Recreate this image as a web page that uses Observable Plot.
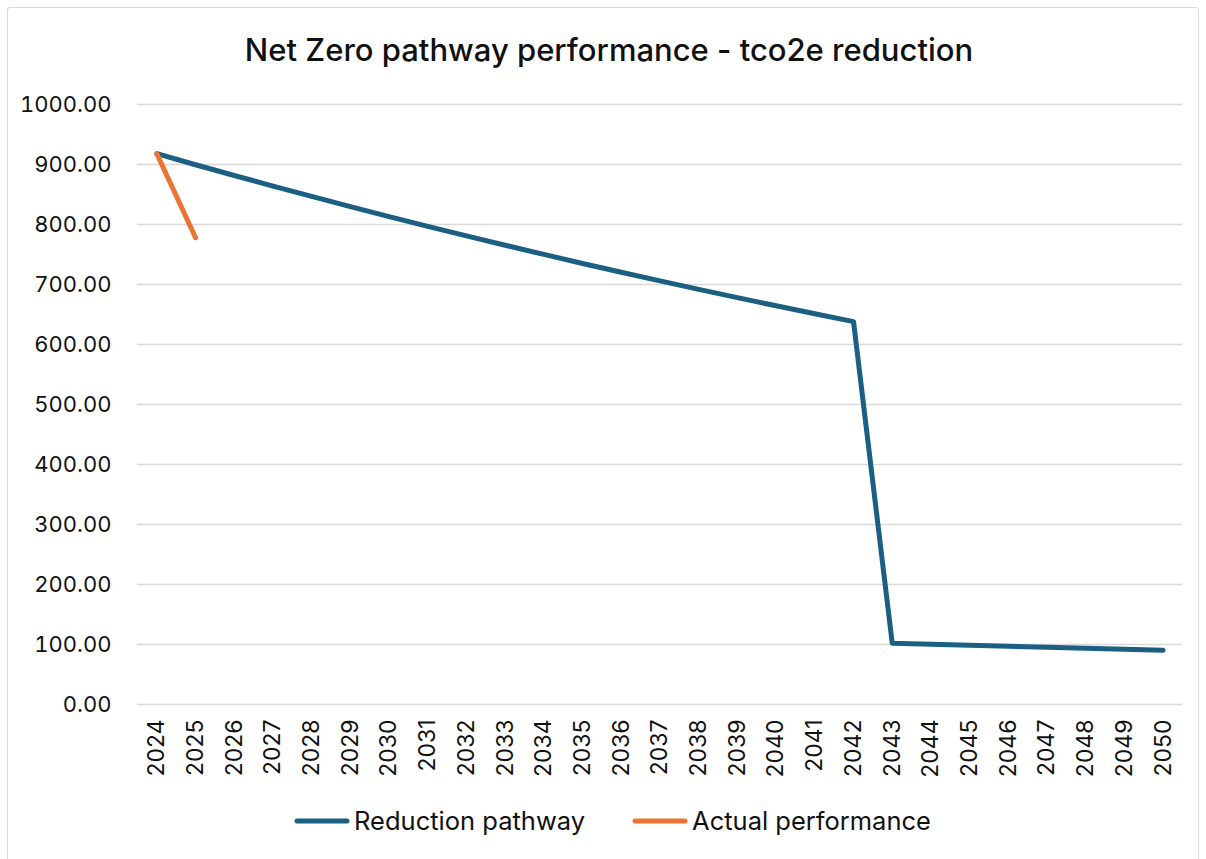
<!DOCTYPE html>
<html>
<head>
<meta charset="utf-8">
<script src="https://cdn.jsdelivr.net/npm/d3@7"></script>
<script src="https://cdn.jsdelivr.net/npm/@observablehq/plot@0.6"></script>
<style>
  body { margin: 0; background: #fff; font-family: Inter, "Noto Sans", sans-serif; }
  #wrap { position: relative; width: 1206px; height: 859px; overflow: hidden; }
  #frame { position: absolute; left: 7px; top: 7px; width: 1192px; height: 870px; border: 1px solid #d9d9d9; border-radius: 3px; box-sizing: border-box; }
  #title { position: absolute; left: 0; width: 1218px; top: 31px; text-align: center; font-size: 31px; font-weight: 500; color: #111; }
  #chart { position: absolute; left: 0; top: 0; }
  #legend { position: absolute; top: 805px; left: 0; width: 1224px; display: flex; justify-content: center; gap: 46px; font-size: 25.5px; color: #111; }
  .item { display: flex; align-items: center; gap: 3px; }
</style>
</head>
<body>
<div id="wrap">
  <div id="frame"></div>
  <div id="title">Net Zero pathway performance - tco2e reduction</div>
  <div id="chart"></div>
  <div id="legend"></div>
</div>
<script>
const years = ["2024","2025","2026","2027","2028","2029","2030","2031","2032","2033","2034","2035","2036","2037","2038","2039","2040","2041","2042","2043","2044","2045","2046","2047","2048","2049","2050"];
const reductionPathway = [918.0, 899.6, 881.7, 864.0, 846.8, 829.8, 813.2, 797.0, 781.0, 765.4, 750.1, 735.1, 720.4, 706.0, 691.9, 678.1, 664.5, 651.2, 638.2, 102.0, 100.3, 98.6, 97.0, 95.3, 93.7, 92.1, 90.6];
const actualYears = ["2024","2025"];
const actualPerformance = [918.0, 778.0];
const yTicks = [0,100,200,300,400,500,600,700,800,900,1000];
const seriesNames = ["Reduction pathway","Actual performance"];
const seriesColors = ["#1b5f82","#ec7433"];

const reduction = years.map((y,i) => ({year: y, value: reductionPathway[i]}));
const actual = actualYears.map((y,i) => ({year: y, value: actualPerformance[i]}));

const chart = Plot.plot({
  width: 1206,
  height: 790,
  marginLeft: 137,
  marginRight: 24,
  marginTop: 104,
  marginBottom: 86,
  style: {fontFamily: "Inter, 'Noto Sans', sans-serif", fontSize: "22px", color: "#111", background: "transparent"},
  x: {type: "point", domain: years, padding: 0.5, round: false},
  y: {domain: [0, 1000], ticks: yTicks},
  marks: [
    Plot.gridY(yTicks, {stroke: "#d9d9d9", strokeOpacity: 1, strokeWidth: 1.5}),
    Plot.axisY(yTicks, {tickSize: 0, tickPadding: 26, tickFormat: d3.format(".2f"), label: null, fontSize: 22}),
    Plot.axisX(years, {tickSize: 0, tickRotate: -90, tickPadding: 15, label: null, fontSize: 23}),
    Plot.line(reduction, {x: "year", y: "value", stroke: seriesColors[0], strokeWidth: 5, strokeLinecap: "round", strokeLinejoin: "round"}),
    Plot.line(actual, {x: "year", y: "value", stroke: seriesColors[1], strokeWidth: 5, strokeLinecap: "round", strokeLinejoin: "round"})
  ]
});
document.getElementById("chart").appendChild(chart);

const legend = document.getElementById("legend");
seriesNames.forEach((name, i) => {
  const item = document.createElement("div");
  item.className = "item";
  item.innerHTML = `<svg width="58" height="10"><line x1="4" y1="5" x2="54" y2="5" stroke="${seriesColors[i]}" stroke-width="5" stroke-linecap="round"/></svg><span>${name}</span>`;
  legend.appendChild(item);
});
</script>
</body>
</html>
